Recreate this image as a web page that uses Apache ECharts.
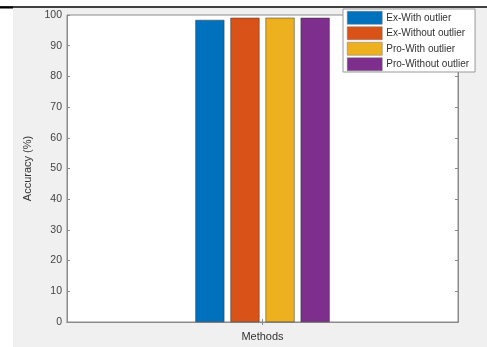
<!DOCTYPE html>
<html><head><meta charset="utf-8">
<script src="https://cdn.jsdelivr.net/npm/echarts@6/dist/echarts.min.js"></script>
<style>html,body{margin:0;padding:0;background:#fff}#c{width:487px;height:347px}</style>
</head><body><div id="c"></div>
<script>
const categories = ['Methods'];
const seriesNames = ['Ex-With outlier', 'Ex-Without outlier', 'Pro-With outlier', 'Pro-Without outlier'];
const exWith = [98.4];
const exWithout = [99.1];
const proWith = [99.1];
const proWithout = [99.1];
const yTicks = [0, 10, 20, 30, 40, 50, 60, 70, 80, 90, 100];
const colors = ['#0072BD', '#D95319', '#EDB120', '#7E2F8E'];
const values = [exWith, exWithout, proWith, proWithout];

const chart = echarts.init(document.getElementById('c'), null, {renderer: 'canvas'});
const font = 'Liberation Sans, Arial, sans-serif';
chart.setOption({
  backgroundColor: '#fff',
  animation: false,
  graphic: [
    {type: 'rect', z: -100, silent: true, shape: {x: 13, y: 8, width: 474, height: 339}, style: {fill: '#f0f0f0'}},
    {type: 'line', z: 100, silent: true, shape: {x1: 0, y1: 7, x2: 487, y2: 7}, style: {stroke: '#000', lineWidth: 1.5}},
    {type: 'line', z: 100, silent: true, shape: {x1: 0, y1: 7.5, x2: 13, y2: 7.5}, style: {stroke: '#000', lineWidth: 2}}
  ],
  grid: {left: 67, right: 29, top: 15, bottom: 22, show: true, backgroundColor: '#fff', borderColor: '#8a8a8a', borderWidth: 1},
  legend: {
    orient: 'vertical', left: 343, top: 9, icon: 'rect', itemWidth: 35, itemHeight: 13, itemGap: 2,
    padding: [2, 6, 1, 4], backgroundColor: '#fff', borderColor: '#999', borderWidth: 1,
    itemStyle: {borderColor: '#777', borderWidth: 0.5},
    textStyle: {fontSize: 10, lineHeight: 12, color: '#333', fontFamily: font, padding: [0, 0, 0, -1]},
    data: seriesNames
  },
  xAxis: [
    {type: 'category', data: categories, position: 'bottom',
     name: 'Methods', nameLocation: 'middle', nameGap: 9,
     nameTextStyle: {fontSize: 11, color: '#333', fontFamily: font},
     axisLine: {lineStyle: {color: '#8a8a8a'}},
     axisTick: {show: true, inside: true, length: 3, alignWithLabel: true, lineStyle: {color: '#8a8a8a'}},
     axisLabel: {show: false}},
    {type: 'category', data: categories, position: 'top',
     axisLine: {lineStyle: {color: '#8a8a8a'}},
     axisTick: {show: true, inside: true, length: 3, alignWithLabel: true, lineStyle: {color: '#8a8a8a'}},
     axisLabel: {show: false}}
  ],
  yAxis: [
    {type: 'value', min: yTicks[0], max: yTicks[yTicks.length - 1], interval: 10, position: 'left',
     name: 'Accuracy (%)', nameLocation: 'middle', nameGap: 28, nameRotate: 90,
     nameTextStyle: {fontSize: 11, color: '#333', fontFamily: font},
     axisLine: {show: true, lineStyle: {color: '#8a8a8a'}},
     axisTick: {show: true, inside: true, length: 3, lineStyle: {color: '#8a8a8a'}},
     axisLabel: {fontSize: 10.5, color: '#444', fontFamily: font, margin: 5},
     splitLine: {show: false}},
    {type: 'value', min: yTicks[0], max: yTicks[yTicks.length - 1], interval: 10, position: 'right',
     axisLine: {show: true, lineStyle: {color: '#8a8a8a'}},
     axisTick: {show: true, inside: true, length: 3, lineStyle: {color: '#8a8a8a'}},
     axisLabel: {show: false}, splitLine: {show: false}}
  ],
  series: seriesNames.map((n, i) => ({
    name: n, type: 'bar', data: values[i], barWidth: 29, barGap: '21%',
    itemStyle: {color: colors[i], borderColor: '#333', borderWidth: 0.5}
  }))
});
</script></body></html>
